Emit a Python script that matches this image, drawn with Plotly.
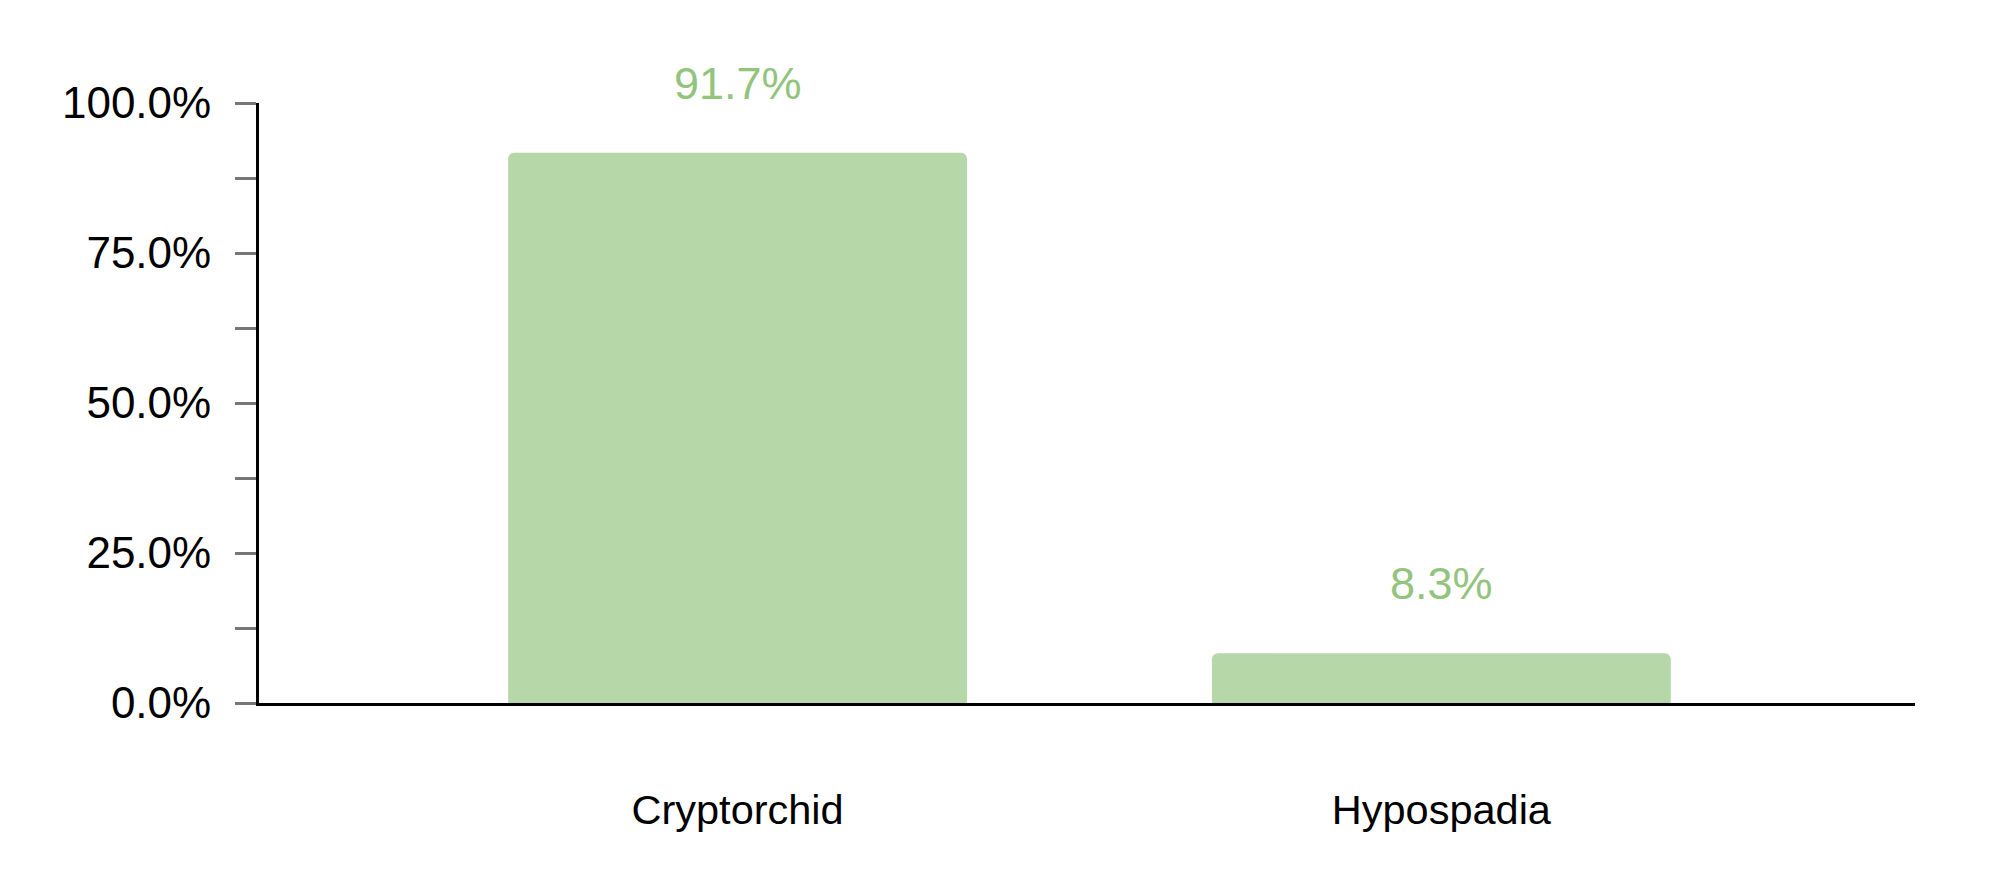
import plotly.graph_objects as go

categories = ["Cryptorchid", "Hypospadia"]
values = [0.917, 0.083]
value_labels = ["91.7%", "8.3%"]
y_ticks = [0, 0.25, 0.5, 0.75, 1.0]
y_tick_labels = ["0.0%", "25.0%", "50.0%", "75.0%", "100.0%"]

BAR = "#b6d7a8"
LABEL = "#93c47d"
FONT = "Liberation Sans, Arial, sans-serif"

fig = go.Figure()
fig.add_trace(go.Bar(
    x=categories, y=values, marker=dict(color=BAR, line=dict(width=0)),
    width=0.652, hoverinfo="skip",
))

for c, v, t in zip(categories, values, value_labels):
    fig.add_annotation(x=c, y=v, text=t, showarrow=False, yanchor="bottom",
                       yshift=42, font=dict(family=FONT, size=45, color=LABEL))

fig.update_layout(
    width=1991, height=884,
    margin=dict(l=251, r=84, t=95, b=189, autoexpand=False),
    paper_bgcolor="white", plot_bgcolor="white",
    barcornerradius=6,
    showlegend=False,
    font=dict(family=FONT, color="black"),
)
fig.update_xaxes(
    range=[-0.68, 1.673], showgrid=False, zeroline=False,
    showline=True, linecolor="black", linewidth=3,
    ticks="", tickfont=dict(size=41.5, family=FONT, color="black"),
    ticklabelstandoff=68,
)
fig.update_yaxes(
    range=[0, 1], showgrid=False, zeroline=False,
    showline=True, linecolor="black", linewidth=3,
    tickvals=y_ticks, ticktext=y_tick_labels,
    ticks="outside", ticklen=21, tickwidth=3, tickcolor="#777777",
    minor=dict(dtick=0.125, tick0=0, ticks="outside", ticklen=21, tickwidth=3, tickcolor="#777777"),
    tickfont=dict(size=44, family=FONT, color="black"),
    ticklabelstandoff=15,
)

fig.write_html("out.html")
